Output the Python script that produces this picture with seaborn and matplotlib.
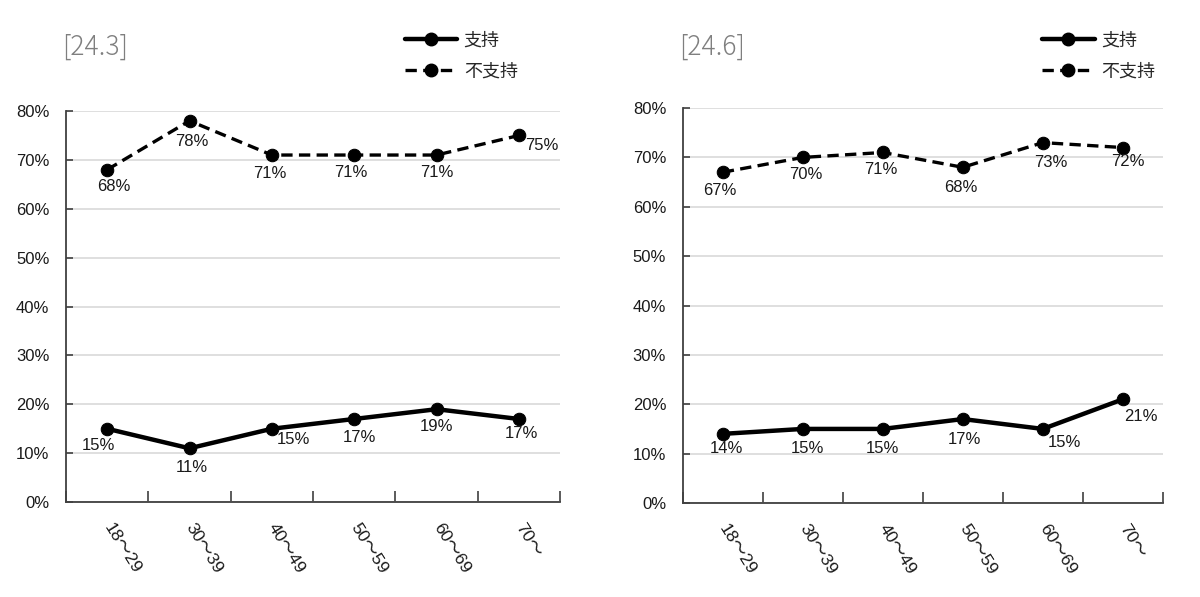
import matplotlib
matplotlib.use("Agg")
import matplotlib.pyplot as plt
import seaborn as sns
import pandas as pd
from matplotlib.lines import Line2D
from matplotlib.ticker import FixedLocator

sns.set_theme(style="white")
plt.rcParams['font.family'] = ['Liberation Sans', 'Noto Sans CJK JP']

ages = ["18～29", "30～39", "40～49", "50～59", "60～69", "70～"]
titles = ["[24.3]", "[24.6]"]
series_names = ["支持", "不支持"]
support_243 = [15, 11, 15, 17, 19, 17]
oppose_243 = [68, 78, 71, 71, 71, 75]
support_246 = [14, 15, 15, 17, 15, 21]
oppose_246 = [67, 70, 71, 68, 73, 72]

# label offsets in pixels (dx, dy) -- style only
off_sup_243 = [(-9, -17), (2, -19), (22, -11), (5, -19), (0, -17), (3, -15)]
off_opp_243 = [(7, -17), (2, -21), (-2, -18), (-3, -17), (0, -17), (23, -10)]
off_sup_246 = [(4, -15), (5, -20), (0, -20), (2, -20), (22, -14), (18, -17)]
off_opp_246 = [(-3, -18), (3, -17), (-2, -17), (-2, -20), (8, -20), (5, -14)]

DASH = (0, (3.4, 1.9))
fig = plt.figure(figsize=(12, 5.97), dpi=100)
axes_pos = [[0.055, 0.159, 0.4117, 0.655], [0.569, 0.1575, 0.400, 0.6615]]
legend_x = [0.336, 0.867]
title_x = [0.052, 0.566]
panels = [
    (titles[0], support_243, oppose_243, off_sup_243, off_opp_243),
    (titles[1], support_246, oppose_246, off_sup_246, off_opp_246),
]

for k, (pos, (title, sup, opp, osup, oopp)) in enumerate(zip(axes_pos, panels)):
    ax = fig.add_axes(pos)
    df = pd.DataFrame({"age": ages, "sup": sup, "opp": opp})
    sns.lineplot(data=df, x="age", y="sup", ax=ax, color="black", linewidth=3.2,
                 marker="o", markersize=9, markeredgecolor="black", sort=False)
    sns.lineplot(data=df, x="age", y="opp", ax=ax, color="black", linewidth=2.4,
                 linestyle=DASH, marker="o", markersize=9,
                 markeredgecolor="black", sort=False)
    for i, (v, o) in enumerate(zip(sup, osup)):
        ax.annotate(f"{v}%", (i, v), xytext=o, textcoords="offset pixels",
                    ha="center", va="center", fontsize=12, color="#1a1a1a")
    for i, (v, o) in enumerate(zip(opp, oopp)):
        ax.annotate(f"{v}%", (i, v), xytext=o, textcoords="offset pixels",
                    ha="center", va="center", fontsize=12, color="#1a1a1a")
    ax.set_xlim(-0.5, len(ages) - 0.5)
    ax.set_ylim(0, 80)
    ax.set_yticks(range(0, 81, 10))
    ax.set_yticklabels([f"{t}%" for t in range(0, 81, 10)], fontsize=12, color="#1a1a1a")
    ax.yaxis.grid(True, color="#d9d9d9", linewidth=1.2)
    ax.set_axisbelow(True)
    ax.set_xlabel("")
    ax.set_ylabel("")
    ax.set_xticks(range(len(ages)))
    ax.set_xticklabels(ages, rotation=-58, rotation_mode="anchor", ha="left",
                       va="center", fontsize=12.5, color="#1a1a1a")
    ax.xaxis.set_minor_locator(FixedLocator([i - 0.5 for i in range(len(ages) + 1)]))
    ax.tick_params(axis="x", which="major", length=0, pad=16)
    ax.tick_params(axis="x", which="minor", length=8, width=1.2, direction="in",
                   color="#404040", bottom=True)
    ax.tick_params(axis="y", length=5, width=1.2, direction="in", color="#404040",
                   left=True, pad=12)
    for s in ["top", "right"]:
        ax.spines[s].set_visible(False)
    for s in ["left", "bottom"]:
        ax.spines[s].set_color("#404040")
        ax.spines[s].set_linewidth(1.3)

    # title
    fig.text(title_x[k], 0.922, title, fontsize=19, color="#7f7f7f",
             fontweight="light", ha="left", va="center",
             family=["Noto Sans CJK JP", "DejaVu Sans"])
    # legend
    handles = [
        Line2D([], [], color="black", linewidth=3.2, marker="o", markersize=9),
        Line2D([], [], color="black", linewidth=2.4, linestyle=DASH,
               marker="o", markersize=9),
    ]
    fig.legend(handles, series_names, loc="upper left",
               bbox_to_anchor=(legend_x[k] - 0.012, 0.975),
               frameon=False, handlelength=2.9, handletextpad=0.35,
               labelspacing=0.75,
               prop={"family": ["Noto Sans CJK JP", "DejaVu Sans"], "size": 13})

fig.savefig("out.png", dpi=100, facecolor="white")
